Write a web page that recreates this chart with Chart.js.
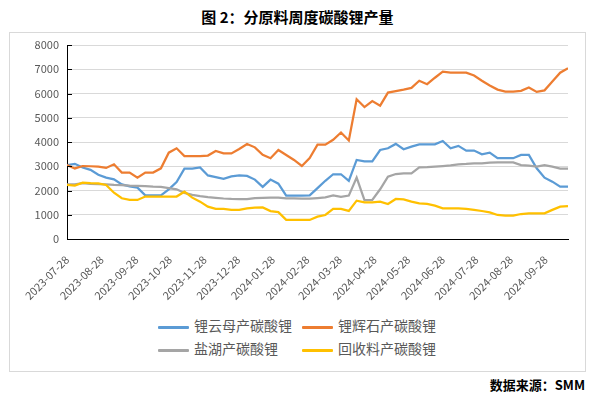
<!DOCTYPE html>
<html>
<head>
<meta charset="utf-8">
<script src="https://cdn.jsdelivr.net/npm/chart.js@4.4.0/dist/chart.umd.min.js"></script>
<style>
  body { margin: 0; width: 595px; height: 399px; background: #fff; font-family: "Noto Sans CJK SC", sans-serif; position: relative; overflow: hidden; }
  #title { position: absolute; top: 6px; left: 0; width: 595px; text-align: center; font-size: 15px; font-weight: bold; color: #000; }
  #frame { position: absolute; left: 9px; top: 32px; width: 575px; height: 338px; border: 1px solid #d9d9d9; }
  #chart { position: absolute; left: 0; top: 0; }
  #legend { position: absolute; left: 158px; top: 315px; }
  .item { position: absolute; font-size: 14px; color: #595959; white-space: nowrap; line-height: 20px; }
  .item span { display: inline-block; width: 31px; height: 3px; vertical-align: middle; margin-right: 5px; border-radius: 1px; }
  #source { position: absolute; right: 10px; top: 375px; font-size: 13px; font-weight: bold; color: #000; }
</style>
</head>
<body>
<div id="title">图 2：分原料周度碳酸锂产量</div>
<div id="frame"></div>
<canvas id="chart" width="595" height="310"></canvas>
<div id="legend"></div>
<div id="source">数据来源：SMM</div>
<script>
// weekly dates
let weekDates = [
    "2023-07-28", "2023-08-04", "2023-08-11", "2023-08-18", "2023-08-25",
    "2023-09-01", "2023-09-08", "2023-09-15", "2023-09-22", "2023-09-29",
    "2023-10-06", "2023-10-13", "2023-10-20", "2023-10-27", "2023-11-03",
    "2023-11-10", "2023-11-17", "2023-11-24", "2023-12-01", "2023-12-08",
    "2023-12-15", "2023-12-22", "2023-12-29", "2024-01-05", "2024-01-12",
    "2024-01-19", "2024-01-26", "2024-02-02", "2024-02-09", "2024-02-16",
    "2024-02-23", "2024-03-01", "2024-03-08", "2024-03-15", "2024-03-22",
    "2024-03-29", "2024-04-05", "2024-04-12", "2024-04-19", "2024-04-26",
    "2024-05-03", "2024-05-10", "2024-05-17", "2024-05-24", "2024-05-31",
    "2024-06-07", "2024-06-14", "2024-06-21", "2024-06-28", "2024-07-05",
    "2024-07-12", "2024-07-19", "2024-07-26", "2024-08-02", "2024-08-09",
    "2024-08-16", "2024-08-23", "2024-08-30", "2024-09-06", "2024-09-13",
    "2024-09-20", "2024-09-27", "2024-10-04", "2024-10-11", "2024-10-18"
];

// axis labels
let tickDates = [
    "2023-07-28", "2023-08-28", "2023-09-28", "2023-10-28", "2023-11-28",
    "2023-12-28", "2024-01-28", "2024-02-28", "2024-03-28", "2024-04-28",
    "2024-05-28", "2024-06-28", "2024-07-28", "2024-08-28", "2024-09-28"
];

let seriesNames = ["锂云母产碳酸锂", "锂辉石产碳酸锂", "盐湖产碳酸锂", "回收料产碳酸锂"];
let seriesColors = ["#5B9BD5", "#ED7D31", "#A5A5A5", "#FFC000"];

let lepidolite = [
    3050, 3100, 2950, 2850, 2650, 2530, 2460, 2250, 2170, 2120,
    1800, 1800, 1800, 2050, 2350, 2900, 2900, 2950, 2620, 2550,
    2480, 2580, 2620, 2600, 2450, 2150, 2450, 2280, 1790, 1790,
    1790, 1800, 2100, 2400, 2670, 2670, 2400, 3260, 3200, 3200,
    3670, 3740, 3920, 3700, 3810, 3905, 3905, 3905, 4040, 3740,
    3840, 3645, 3645, 3490, 3560, 3330, 3330, 3330, 3465, 3465,
    2915, 2530, 2365, 2160, 2160
];
let spodumene = [
    3050, 2910, 3010, 3000, 2985, 2930, 3080, 2740, 2740, 2530,
    2740, 2740, 2915, 3560, 3740, 3420, 3420, 3420, 3440, 3630,
    3530, 3530, 3710, 3920, 3780, 3470, 3330, 3670, 3465, 3260,
    3010, 3340, 3890, 3890, 4090, 4390, 4060, 5760, 5440, 5690,
    5500, 6036, 6100, 6160, 6230, 6525, 6385, 6650, 6900, 6860,
    6860, 6860, 6740, 6525, 6330, 6160, 6080, 6080, 6110, 6250,
    6065, 6130, 6490, 6860, 7040
];
let brine = [
    2250, 2250, 2300, 2270, 2260, 2250, 2230, 2220, 2200, 2190,
    2180, 2160, 2150, 2100, 2050, 1900, 1820, 1770, 1730, 1700,
    1670, 1650, 1640, 1640, 1690, 1700, 1710, 1710, 1680, 1680,
    1660, 1660, 1690, 1720, 1800, 1740, 1790, 2530, 1600, 1610,
    2050, 2570, 2680, 2710, 2710, 2950, 2960, 2985, 3010, 3040,
    3080, 3095, 3120, 3120, 3150, 3160, 3160, 3160, 3050, 3025,
    2985, 3050, 2985, 2900, 2900
];
let recycled = [
    2230, 2200, 2320, 2300, 2290, 2230, 1910, 1680, 1610, 1610,
    1750, 1750, 1750, 1750, 1750, 1950, 1705, 1540, 1335, 1240,
    1240, 1200, 1200, 1265, 1290, 1300, 1150, 1110, 790, 790,
    785, 785, 920, 990, 1240, 1240, 1160, 1580, 1510, 1510,
    1540, 1445, 1650, 1635, 1540, 1470, 1445, 1375, 1265, 1265,
    1265, 1240, 1200, 1155, 1100, 990, 960, 960, 1030, 1060,
    1060, 1060, 1200, 1335, 1360
];

let allSeries = [lepidolite, spodumene, brine, recycled];

let day0 = Date.parse(weekDates[0]);
function dayOf(s) {
    return (Date.parse(s) - day0) / 86400000;
}

let datasets = [];
for (let i = 0; i < allSeries.length; i++) {
    datasets.push({
        label: seriesNames[i],
        data: allSeries[i].map((v, j) => ({ x: dayOf(weekDates[j]), y: v })),
        borderColor: seriesColors[i],
        backgroundColor: seriesColors[i],
        borderWidth: 2.25,
        pointRadius: 0,
        tension: 0,
        order: allSeries.length - i
    });
}

// little black ticks inside the y axis
let yTickMarks = {
    id: "yTickMarks",
    afterDraw(chart) {
        let ctx = chart.ctx;
        let y = chart.scales.y;
        let left = chart.chartArea.left;
        ctx.save();
        ctx.strokeStyle = "#000";
        ctx.lineWidth = 1;
        y.ticks.forEach(t => {
            let py = Math.round(y.getPixelForValue(t.value)) + 0.5;
            ctx.beginPath();
            ctx.moveTo(left, py);
            ctx.lineTo(left + 5, py);
            ctx.stroke();
        });
        ctx.restore();
    }
};

new Chart("chart", {
    type: "line",
    data: { datasets: datasets },
    plugins: [yTickMarks],
    options: {
        responsive: false,
        animation: false,
        devicePixelRatio: 1,
        layout: { padding: { left: 10, right: 27, top: 45, bottom: 0 } },
        plugins: { legend: { display: false }, tooltip: { enabled: false } },
        scales: {
            x: {
                type: "linear",
                min: 0,
                max: dayOf(weekDates[weekDates.length - 1]),
                afterBuildTicks: (scale) => {
                    scale.ticks = tickDates.map(d => ({ value: dayOf(d) }));
                },
                afterFit: (scale) => { scale.height = 71; },
                ticks: {
                    autoSkip: false,
                    minRotation: 45,
                    maxRotation: 45,
                    padding: 14,
                    color: "#595959",
                    font: { family: "Noto Sans CJK SC", size: 11 },
                    callback: (v, i) => tickDates[i]
                },
                grid: { display: false, drawTicks: false },
                border: { display: true, color: "#000", width: 1 }
            },
            y: {
                min: 0,
                max: 8000,
                afterFit: (scale) => { scale.width = 57; },
                ticks: {
                    stepSize: 1000,
                    padding: 8,
                    color: "#595959",
                    font: { family: "Noto Sans CJK SC", size: 11 },
                    callback: (v) => String(v)
                },
                grid: { color: "#d9d9d9", lineWidth: 1, drawTicks: false },
                border: { display: true, color: "#000", width: 1 }
            }
        }
    }
});

// legend in 2 columns
let legendBox = document.getElementById("legend");
for (let i = 0; i < seriesNames.length; i++) {
    let item = document.createElement("div");
    item.className = "item";
    item.style.left = (i % 2) * 144 + "px";
    item.style.top = Math.floor(i / 2) * 23 + "px";
    let line = document.createElement("span");
    line.style.background = seriesColors[i];
    item.appendChild(line);
    item.appendChild(document.createTextNode(seriesNames[i]));
    legendBox.appendChild(item);
}
</script>
</body>
</html>
